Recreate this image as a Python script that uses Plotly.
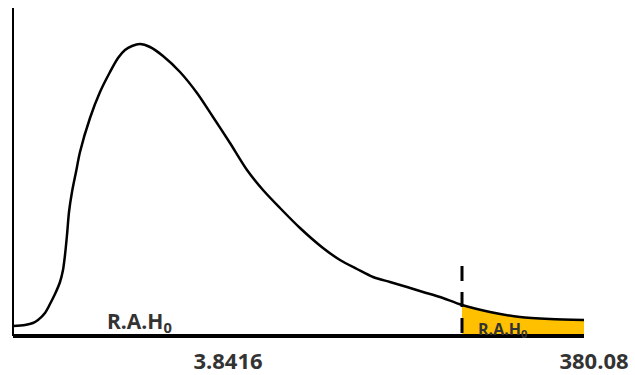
import plotly.graph_objects as go

# Curve (density), in chart units
curve_x = [0, 12, 20, 25, 32, 37, 42, 47, 50, 52, 54, 56, 59, 63, 67, 77, 87, 97, 105, 112,
           119, 127, 137, 150, 167, 184, 200, 217, 234, 250, 267, 287, 310, 327, 344, 360,
           377, 394, 410, 427, 449, 477, 507, 537, 571]
curve_y = [10, 11, 13, 16, 23, 32, 42, 54, 66, 81, 101, 124, 144, 164, 184, 218, 244, 264, 278, 286,
           290, 292, 289, 280, 264, 243, 219, 193, 166, 146, 128, 108, 88, 76, 67, 59,
           54, 49, 44, 39, 31, 24, 19, 17, 16]

critical_x = 449
axis_end = 571
tick_vals = [215, 581]
tick_text = ["3.8416", "380.08"]
region_label = "R.A.H<sub>0</sub>"

tail_x = [x for x in curve_x if x >= critical_x]
tail_y = [y for x, y in zip(curve_x, curve_y) if x >= critical_x]

fig = go.Figure()
fig.add_trace(go.Scatter(x=tail_x, y=tail_y, mode="lines", fill="tozeroy",
                         fillcolor="#FFC000", line=dict(width=0, color="#FFC000", shape="spline"),
                         hoverinfo="skip"))
fig.add_trace(go.Scatter(x=curve_x, y=curve_y, mode="lines",
                         line=dict(color="black", width=2.5, shape="spline", smoothing=0.8)))

# axis lines
fig.add_shape(type="line", x0=0, x1=axis_end, y0=0, y1=0, line=dict(color="black", width=4))
fig.add_shape(type="line", x0=0, x1=0, y0=0, y1=328, line=dict(color="black", width=2))
# critical value dashed line
fig.add_shape(type="line", x0=critical_x, x1=critical_x, y0=70, y1=0,
              line=dict(color="black", width=3, dash="15px,11px"))

fig.add_annotation(x=126, y=14, text=region_label, showarrow=False, xanchor="center", yanchor="middle",
                   font=dict(family="Open Sans", size=21, color="#333333", weight="bold"))
fig.add_annotation(x=489, y=7, text=region_label, showarrow=False, xanchor="center", yanchor="middle",
                   font=dict(family="Open Sans", size=16, color="#333333", weight="bold"))

fig.update_layout(
    width=635, height=375,
    margin=dict(l=11, r=0, t=8, b=35),
    paper_bgcolor="white", plot_bgcolor="white",
    showlegend=False,
    xaxis=dict(range=[-2, 622], showgrid=False, zeroline=False, showline=False, automargin=False,
               tickmode="array", tickvals=tick_vals, ticktext=tick_text, ticks="",
               ticklabelstandoff=6,
               tickfont=dict(family="Open Sans", size=22, color="#333333", weight="bold")),
    yaxis=dict(range=[-4, 328], showgrid=False, zeroline=False, showline=False, automargin=False,
               showticklabels=False, ticks=""),
)

fig.write_html("out.html", config={"displayModeBar": False},
               post_script="document.body.style.margin='0';document.body.style.overflow='hidden';")
